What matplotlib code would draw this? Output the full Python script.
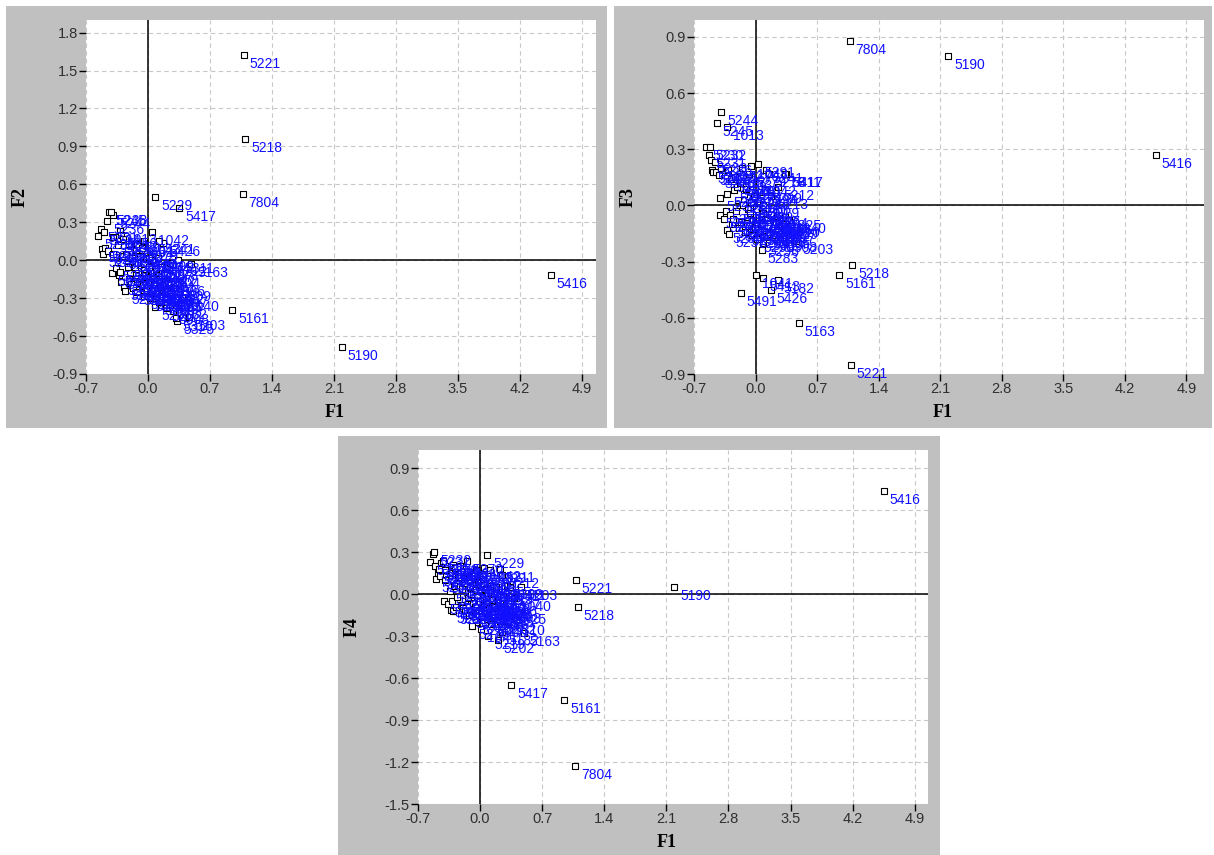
import matplotlib
matplotlib.use('Agg')
import matplotlib.pyplot as plt
from matplotlib.patches import Rectangle

# ---------------- data ----------------
labels = ["5416", "5190", "5221", "5218", "7804", "5161", "5417", "5163", "5203", "5229",
          "5325", "5426", "5491", "5283", "5182", "5413", "5202", "5219", "5282", "5244",
          "1013", "5245", "5242", "5212", "5211", "5401", "5213", "5241", "5278", "5240",
          "5230", "5231", "5232", "5233", "5234", "5235", "5236", "5237", "5238", "5239",
          "5250", "5251", "5252", "5253", "5254", "5255", "5256", "5257", "5258", "5259",
          "5260", "5261", "5262", "5263", "5264", "5265", "5266", "5267", "5268", "5269",
          "5270", "5271", "5272", "5273", "5274", "5275", "5276", "5277", "5279", "5280",
          "5281", "5284", "5285", "5286", "5287", "5288", "5289", "5290", "5291", "5292",
          "5293", "5294", "5295", "5296", "5297", "5298", "5299", "5300", "5301", "5302",
          "5303", "5304", "5305", "5306", "5307", "5308", "5309", "5310", "5311", "1040",
          "1041", "1042", "1043"]

f1 = [4.55, 2.19, 1.08, 1.10, 1.07, 0.95, 0.35, 0.49, 0.46, 0.08,
      0.33, 0.17, -0.17, 0.07, 0.25, 0.09, 0.20, 0.09, 0.22, -0.39,
      -0.32, -0.44, 0.12, 0.25, 0.22, -0.12, 0.18, 0.12, 0.15, -0.05,
      -0.56, -0.53, -0.52, -0.51, -0.50, -0.48, -0.46, -0.45, -0.42, -0.40,
      -0.41, -0.39, -0.36, -0.34, -0.33, -0.32, -0.31, -0.30, -0.29, -0.28,
      -0.27, -0.26, -0.25, -0.23, -0.22, -0.21, -0.20, -0.19, -0.18, -0.17,
      -0.15, -0.14, -0.13, -0.12, -0.11, -0.10, -0.09, -0.08, -0.07, -0.06,
      -0.05, -0.04, -0.03, -0.02, -0.01, 0.00, 0.01, 0.02, 0.03, 0.04,
      0.05, 0.06, 0.07, 0.08, 0.09, 0.10, 0.11, 0.12, 0.13, 0.14,
      0.16, 0.18, 0.20, 0.23, 0.26, 0.28, 0.30, 0.32, 0.34, 0.38,
      0.01, 0.04, -0.05]

f2 = [-0.12, -0.69, 1.62, 0.96, 0.52, -0.39, 0.41, -0.03, -0.45, 0.50,
      -0.48, 0.14, -0.20, -0.30, -0.36, -0.22, -0.38, -0.28, -0.24, 0.36,
      0.23, 0.38, -0.10, -0.02, -0.30, 0.13, -0.20, 0.15, -0.05, -0.25,
      0.19, 0.25, 0.09, 0.05, 0.22, 0.10, 0.31, 0.07, 0.38, 0.05,
      -0.10, 0.18, -0.06, 0.12, -0.12, -0.09, 0.20, -0.17, 0.03, 0.17,
      -0.21, -0.24, 0.05, -0.05, -0.15, 0.13, -0.10, -0.19, 0.02, -0.22,
      -0.05, -0.12, 0.08, -0.25, -0.02, -0.18, 0.03, -0.14, 0.10, -0.20,
      -0.08, -0.28, -0.12, 0.01, -0.22, -0.13, -0.05, -0.30, -0.17, -0.10,
      -0.24, 0.00, -0.19, -0.37, -0.07, -0.26, 0.02, -0.33, -0.15, -0.21,
      -0.28, -0.12, -0.31, -0.18, -0.27, -0.40, -0.22, -0.46, 0.00, -0.30,
      0.02, 0.22, 0.15]

f3 = [0.27, 0.80, -0.85, -0.32, 0.88, -0.37, 0.17, -0.63, -0.19, 0.00,
      -0.06, -0.45, -0.47, -0.24, -0.40, -0.39, -0.12, -0.05, -0.10, 0.50,
      0.42, 0.44, -0.12, 0.10, -0.08, 0.12, 0.05, 0.19, 0.17, 0.02,
      0.31, 0.27, 0.31, 0.24, 0.19, 0.18, 0.23, 0.18, 0.16, 0.04,
      -0.05, 0.20, -0.07, -0.03, -0.13, 0.06, 0.19, -0.15, -0.05, 0.14,
      -0.10, -0.07, 0.08, 0.15, -0.03, 0.10, 0.03, -0.12, 0.12, -0.09,
      0.20, 0.00, 0.06, -0.14, 0.09, -0.06, -0.02, -0.11, 0.17, -0.04,
      0.02, -0.16, -0.08, 0.05, -0.12, -0.09, -0.02, -0.18, 0.22, -0.06,
      -0.14, 0.07, -0.10, -0.20, -0.04, -0.13, 0.08, -0.17, -0.08, -0.11,
      -0.15, -0.05, -0.16, -0.09, -0.13, -0.18, -0.11, -0.10, 0.17, -0.08,
      -0.37, 0.12, 0.21]

f4 = [0.74, 0.05, 0.10, -0.09, -1.23, -0.76, -0.65, -0.28, 0.05, 0.28,
      -0.12, -0.10, -0.05, -0.15, -0.27, -0.02, -0.33, -0.30, -0.19, 0.20,
      0.15, 0.22, -0.08, 0.14, 0.18, 0.10, 0.02, 0.06, -0.05, -0.20,
      0.23, 0.29, 0.30, 0.20, 0.11, 0.15, 0.18, 0.13, 0.24, 0.10,
      -0.05, 0.17, -0.07, 0.02, -0.11, -0.05, 0.21, -0.12, 0.06, 0.19,
      -0.09, -0.02, 0.12, 0.20, -0.08, 0.16, 0.04, -0.10, 0.08, -0.12,
      0.24, -0.03, 0.12, -0.15, 0.05, 0.00, -0.23, -0.06, 0.14, -0.09,
      0.07, -0.14, -0.02, 0.09, -0.11, -0.05, 0.03, -0.16, 0.11, -0.08,
      -0.12, 0.04, -0.07, -0.18, 0.01, -0.10, 0.17, -0.21, -0.04, -0.13,
      -0.09, 0.05, -0.14, -0.06, -0.02, -0.11, 0.06, -0.20, 0.05, -0.03,
      -0.25, 0.19, 0.17]

x_ticks = [-0.7, 0.0, 0.7, 1.4, 2.1, 2.8, 3.5, 4.2, 4.9]
f2_ticks = [-0.9, -0.6, -0.3, 0.0, 0.3, 0.6, 0.9, 1.2, 1.5, 1.8]
f3_ticks = [-0.9, -0.6, -0.3, 0.0, 0.3, 0.6, 0.9]
f4_ticks = [-1.5, -1.2, -0.9, -0.6, -0.3, 0.0, 0.3, 0.6, 0.9]

# ---------------- layout ----------------
W, H = 1214, 855
fig = plt.figure(figsize=(W / 100, H / 100), dpi=100)
fig.patch.set_facecolor('white')
GRAY = '#c0c0c0'


def frac(x0, y0, x1, y1):
    return [x0 / W, 1 - y1 / H, (x1 - x0) / W, (y1 - y0) / H]


panels = [
    dict(box=(6, 6, 607, 428), ax=(86, 20, 596, 374), y=f2, name='F2',
         xlim=(-0.7, 5.06), ylim=(-0.9, 1.9), yticks=f2_ticks),
    dict(box=(614, 6, 1212, 428), ax=(694, 20, 1204, 374), y=f3, name='F3',
         xlim=(-0.7, 5.1), ylim=(-0.9, 0.99), yticks=f3_ticks),
    dict(box=(338, 436, 940, 855), ax=(418, 450, 928, 804), y=f4, name='F4',
         xlim=(-0.7, 5.05), ylim=(-1.5, 1.03), yticks=f4_ticks),
]

for p in panels:
    bx = frac(*p['box'])
    fig.patches.append(Rectangle((bx[0], bx[1]), bx[2], bx[3],
                                 transform=fig.transFigure, facecolor=GRAY,
                                 edgecolor='none', zorder=-10))
    ax = fig.add_axes(frac(*p['ax']))
    ax.set_zorder(1)
    ax.set_facecolor('white')
    for s in ax.spines.values():
        s.set_visible(False)
    ax.set_xlim(*p['xlim'])
    ax.set_ylim(*p['ylim'])
    ax.set_xticks(x_ticks)
    ax.set_yticks(p['yticks'])
    ax.set_xticklabels(['%.1f' % v for v in x_ticks])
    ax.set_yticklabels(['%.1f' % v for v in p['yticks']])
    ax.tick_params(direction='out', length=5, width=1, color='black', pad=1,
                   labelsize=10.5, labelcolor='#303030')
    ax.grid(True, linestyle=(0, (4, 3)), color='#c8c8c8', linewidth=0.8)
    ax.set_axisbelow(True)
    ax.axhline(0, color='black', linewidth=1.1, zorder=2)
    ax.axvline(0, color='black', linewidth=1.1, zorder=2)

    ax.scatter(f1, p['y'], marker='s', s=14, facecolor='white',
               edgecolor='black', linewidth=0.8, zorder=3)
    for lab, xv, yv in zip(labels, f1, p['y']):
        ax.annotate(lab, (xv, yv), xytext=(6, -9), textcoords='offset pixels',
                    ha='left', va='center', fontsize=10, color='#1010ff',
                    family='Liberation Sans', zorder=4)

    ax.set_xlabel('F1', fontsize=13, fontweight='bold', family='Liberation Serif')
    ax.set_ylabel(p['name'], fontsize=13, fontweight='bold', family='Liberation Serif')
    ax.xaxis.set_label_coords(0.488, -0.11)
    ax.xaxis.label.set_va('center')
    ax.yaxis.set_label_coords(-0.129, 0.5)
    ax.yaxis.label.set_va('center')
    for t in ax.get_xticklabels() + ax.get_yticklabels():
        t.set_family('Liberation Sans')

fig.savefig('out.png', dpi=100, facecolor='white')
